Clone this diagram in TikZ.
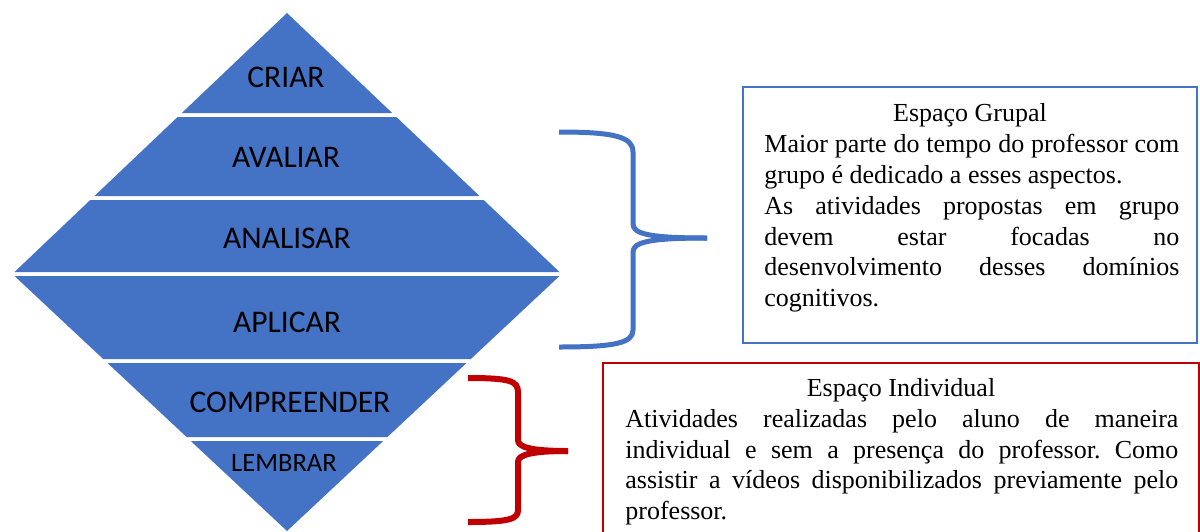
\documentclass[tikz,border=0pt]{standalone}
\usepackage{fontspec}
\setmainfont{Liberation Serif}
\newfontfamily\carlito{Carlito}
\definecolor{pyr}{HTML}{4472C4}
\definecolor{darkred}{HTML}{C00000}
\newcommand\justL[2]{\makebox[#1][s]{#2}}
\frenchspacing
\begin{document}
\begin{tikzpicture}[x=0.5pt,y=-0.5pt,
  lvl/.style={font=\carlito\fontsize{15.75}{18}\selectfont, inner sep=0, text=black},
  lvlsmall/.style={font=\carlito\fontsize{13.3}{16}\selectfont, inner sep=0, text=black},
  boxline/.style={font=\fontsize{13}{15.4}\selectfont, inner sep=0, anchor=base west},
  boxtitle/.style={font=\fontsize{13}{15.4}\selectfont, inner sep=0, anchor=base},
  bluebrace/.style={draw=pyr, line width=2.5pt, line join=round},
  redbrace/.style={draw=darkred, line width=3pt, line join=round}]
\useasboundingbox (0,0) rectangle (1200,531);
\clip (0,0) rectangle (1200,531);
% pyramid bands
\fill[pyr] (287,13) -- (392.2,113) -- (181.8,113) -- cycle;
\fill[pyr] (177.6,117) -- (396.4,117) -- (479.5,196) -- (94.5,196) -- cycle;
\fill[pyr] (90.3,200) -- (483.7,200) -- (559.5,272) -- (14.5,272) -- cycle;
\fill[pyr] (14.5,276) -- (559.5,276) -- (470.8,359) -- (103.2,359) -- cycle;
\fill[pyr] (107.5,363) -- (466.5,363) -- (387.4,437) -- (186.6,437) -- cycle;
\fill[pyr] (190.8,441) -- (383.2,441) -- (287,531) -- cycle;
% level labels
\node[lvl] (criar) at (286,77) {CRIAR};
\node[lvl] (avaliar) at (286,157) {AVALIAR};
\node[lvl] (analisar) at (287,238) {ANALISAR};
\node[lvl] (aplicar) at (287,322) {APLICAR};
\node[lvl] (compreender) at (290,402) {COMPREENDER};
\node[lvlsmall] (lembrar) at (284,463) {LEMBRAR};
% braces
\draw[bluebrace] (559,132) .. controls (615,132) and (633,137) .. (633,152) -- (633,224) .. controls (633,234) and (650,238) .. (707,238);
\draw[bluebrace] (707,238) .. controls (650,238) and (633,242) .. (633,252) -- (633,330) .. controls (633,343) and (615,347) .. (559,347);
\draw[redbrace] (468,378) .. controls (510,378) and (518,381) .. (518,392) -- (518,440) .. controls (518,447) and (530,451) .. (568,451);
\draw[redbrace] (568,451) .. controls (530,451) and (518,455) .. (518,462) -- (518,510) .. controls (518,519) and (510,522) .. (468,522);
% boxes
\draw[pyr, line width=1pt] (743,87) rectangle (1197,343);
\draw[darkred, line width=1pt] (603,363) rectangle (1199,560);
% blue box text
\node[boxtitle] (gtitle) at (970,121) {Espaço Grupal};
\node[boxline] (g1) at (764,152) {\justL{207.5pt}{Maior parte do tempo do professor com}};
\node[boxline] (g2) at (764,183) {grupo é dedicado a esses aspectos.};
\node[boxline] (g3) at (764,214) {\justL{207.5pt}{As atividades propostas em grupo}};
\node[boxline] (g4) at (764,245) {\justL{207.5pt}{devem estar focadas no}};
\node[boxline] (g5) at (764,275) {\justL{207.5pt}{desenvolvimento desses domínios}};
\node[boxline] (g6) at (764,306) {cognitivos.};
% red box text
\node[boxtitle] (ititle) at (901,396) {Espaço Individual};
\node[boxline] (i1) at (625,427) {\justL{276.5pt}{Atividades realizadas pelo aluno de maneira}};
\node[boxline] (i2) at (625,458) {\justL{276.5pt}{individual e sem a presença do professor. Como}};
\node[boxline] (i3) at (625,488) {\justL{276.5pt}{assistir a vídeos disponibilizados previamente pelo}};
\node[boxline] (i4) at (625,519) {professor.};
\end{tikzpicture}
\end{document}
